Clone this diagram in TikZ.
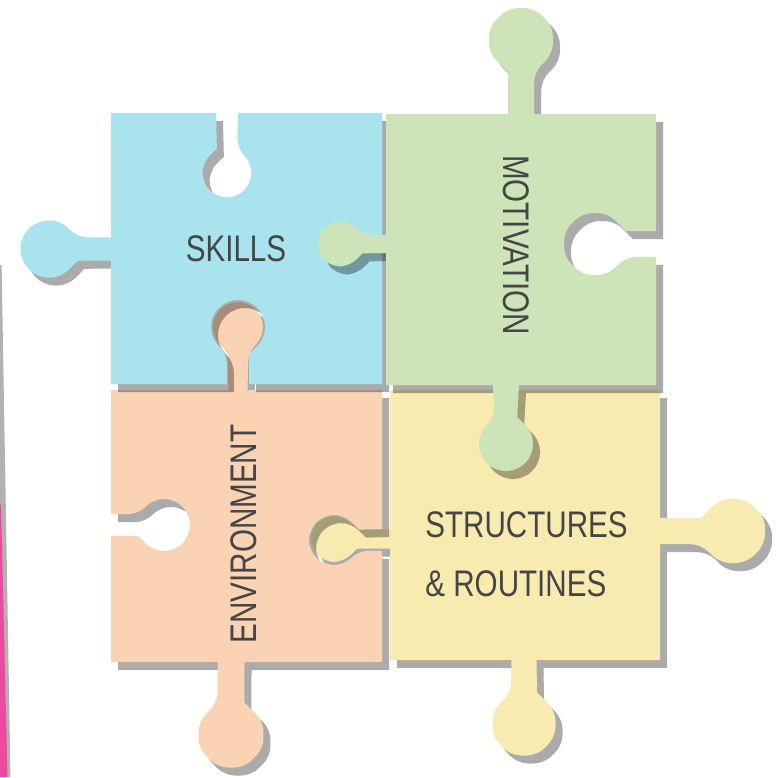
\documentclass[tikz,border=0pt]{standalone}
\usepackage{fontspec}
\newfontfamily\pzfont[FakeStretch=0.8]{Liberation Sans}
\usetikzlibrary{calc}
\definecolor{pzblue}{HTML}{A9E4EE}
\definecolor{pzgreen}{HTML}{CDE4B8}
\definecolor{pzpeach}{HTML}{FAD3B5}
\definecolor{pzyellow}{HTML}{F7EBB0}
\definecolor{pzpink}{HTML}{EC4A9E}
\definecolor{pztext}{HTML}{454545}
% outward tab with a rounded octagonal head: cx cy halfsize stem-halfwidth direction distance-to-edge
\newcommand\pztab[6]{%
  -- ($(#1,#2)+({#5-90}:#4)+({#5+180}:#6)$)
  -- ($(#1,#2)+({#5+202.5}:{#3/0.924})$) [rounded corners=5pt]
  -- ($(#1,#2)+({#5+247.5}:{#3/0.924})$)
  -- ($(#1,#2)+({#5+292.5}:{#3/0.924})$)
  -- ($(#1,#2)+({#5+337.5}:{#3/0.924})$)
  -- ($(#1,#2)+({#5+382.5}:{#3/0.924})$)
  -- ($(#1,#2)+({#5+427.5}:{#3/0.924})$)
  -- ($(#1,#2)+({#5+472.5}:{#3/0.924})$)
  -- ($(#1,#2)+({#5+517.5}:{#3/0.924})$) [sharp corners]
  -- ($(#1,#2)+({#5+90}:#4)+({#5+180}:#6)$)}
% inward keyhole notch
\newcommand\pznotch[6]{%
  -- ($(#1,#2)+({#5+90}:#4)+({#5+180}:#6)$)
  -- ($(#1,#2)+({#5+157.5}:{#3/0.924})$) [rounded corners=5pt]
  -- ($(#1,#2)+({#5+112.5}:{#3/0.924})$)
  -- ($(#1,#2)+({#5+67.5}:{#3/0.924})$)
  -- ($(#1,#2)+({#5+22.5}:{#3/0.924})$)
  -- ($(#1,#2)+({#5-22.5}:{#3/0.924})$)
  -- ($(#1,#2)+({#5-67.5}:{#3/0.924})$)
  -- ($(#1,#2)+({#5-112.5}:{#3/0.924})$)
  -- ($(#1,#2)+({#5-157.5}:{#3/0.924})$) [sharp corners]
  -- ($(#1,#2)+({#5-90}:#4)+({#5+180}:#6)$)}
\newcommand\pathblue{(111,113) \pznotch{227}{173}{24.5}{11}{90}{60} -- (382,113) -- (382,384)
  \pznotch{238}{327}{27}{11}{270}{57} -- (111,384) \pztab{49}{249}{28.5}{11.5}{180}{62} -- cycle}
\newcommand\pathgreen{(386,114) \pztab{521}{40}{32}{13}{270}{74} -- (656,114)
  \pznotch{595}{244}{31}{13}{180}{61} -- (656,385) \pztab{506}{444}{27}{13}{90}{59} -- (386,385)
  \pztab{340}{244}{22.5}{9}{180}{46} -- cycle}
\newcommand\pathpeach{(111,390) \pztab{238}{327}{25}{9.5}{270}{63} -- (382,390)
  \pznotch{334}{540}{25}{11}{180}{48} -- (382,662) \pztab{231}{735}{32.5}{13.5}{90}{73} -- (111,662)
  \pznotch{164}{525}{26}{11}{0}{53} -- cycle}
\newcommand\pathyellow{(390,390) -- (660,390) \pztab{733}{531}{32}{13}{0}{73} -- (660,660)
  \pztab{524}{724}{31.5}{12.5}{90}{64} -- (390,660) \pztab{334}{539}{23}{9.5}{180}{56} -- cycle}
\begin{document}
\begin{tikzpicture}[x=0.5pt,y=-0.5pt,
  shadowc/.style={fill=black,fill opacity=0.33},
  lbl/.style={font=\pzfont\fontsize{18.5}{20}\selectfont,text=pztext,inner sep=0pt}]
\useasboundingbox (0,0) rectangle (780,777);
\fill[white] (0,0) rectangle (780,777);
% page edge at the left
\fill[black!30] (0,265) -- (1.6,265) -- (10.5,777) -- (0,777) -- cycle;
\fill[pzpink] (0,505) -- (1,505) -- (7.5,777) -- (0,777) -- cycle;
% pieces, from the lowest to the highest
\begin{scope}[transform canvas={shift={(7,8)}}]\fill[shadowc] \pathyellow;\end{scope}
\fill[pzyellow] \pathyellow;
\begin{scope}[transform canvas={shift={(7,8)}}]\fill[shadowc] \pathpeach;\end{scope}
\fill[pzpeach] \pathpeach;
\begin{scope}[transform canvas={shift={(7,8)}}]\fill[shadowc] \pathblue;\end{scope}
\fill[pzblue] \pathblue;
\begin{scope}[transform canvas={shift={(7,8)}}]\fill[shadowc] \pathgreen;\end{scope}
\fill[pzgreen] \pathgreen;
% labels
\node[lbl,anchor=base] (skills) at (236,261) {SKILLS};
\node[lbl,rotate=-90] (motivation) at (516,245) {MOTIVATION};
\node[lbl,rotate=90] (environment) at (244,534) {ENVIRONMENT};
\node[lbl,anchor=base west] (structures) at (425,537) {STRUCTURES};
\node[lbl,anchor=base west] (routines) at (425,596) {\& ROUTINES};
\end{tikzpicture}
\end{document}
